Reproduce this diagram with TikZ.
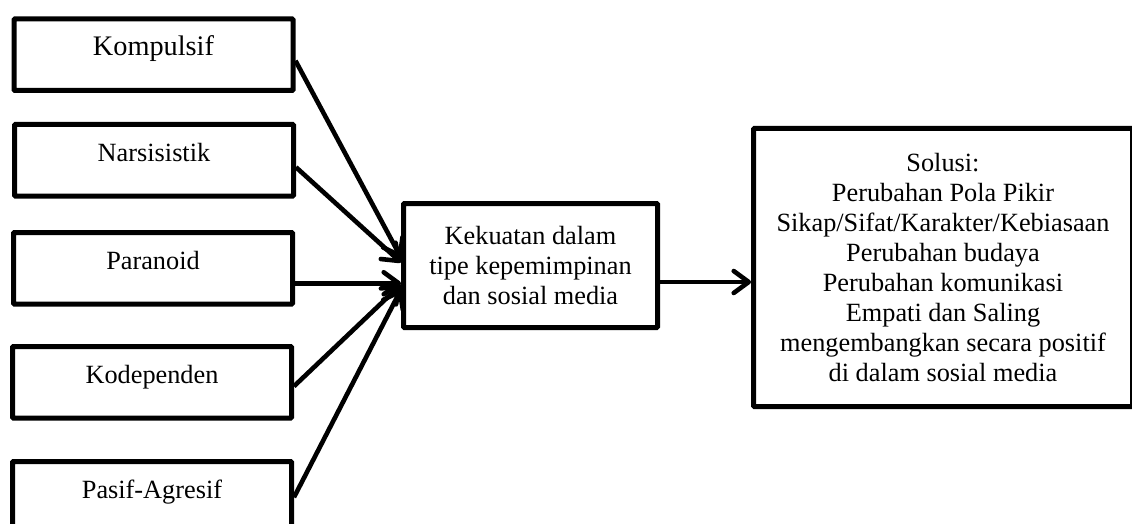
\documentclass[tikz,border=0pt]{standalone}
\usepackage{fontspec}
\setmainfont{Liberation Serif}
\usetikzlibrary{arrows.meta}
\tikzset{
  every node/.style={font=\fontsize{26.3}{30}\selectfont},
  leftbox/.style={draw, line width=5pt, rounded corners=1pt, inner sep=0pt, anchor=north west,
    minimum width=279pt, text height=36.5pt, text depth=35pt},
  bigbox/.style={draw, line width=5pt, rounded corners=1pt, inner sep=0pt, align=center},
  conn/.style={line width=4.6pt, -{Straight Barb[length=15pt,width=22pt,round]}}
}
\begin{document}
\begin{tikzpicture}[x=1pt,y=-1pt]
\useasboundingbox (0,0) rectangle (1132,524);
\clip (0,0) rectangle (1132,524);
\node[leftbox, font=\fontsize{28.3}{30}\selectfont] (k)  at (11.5,16.5) {Kompulsif};
\node[leftbox] (n)  at (12,122)    {Narsisistik};
\node[leftbox] (p)  at (11,230)    {Paranoid};
\node[leftbox] (kd) at (10,344)    {Kodependen};
\node[leftbox] (pa) at (10,459)    {Pasif-Agresif};
\node[bigbox, minimum width=254pt, minimum height=124pt] (m) at (530.5,265.5)
  {Kekuatan dalam\\tipe kepemimpinan\\dan sosial media};
\node[bigbox, minimum width=379pt, minimum height=278pt] (s) at (943,267.5)
  {Solusi:\\Perubahan Pola Pikir\\Sikap/Sifat/Karakter/Kebiasaan\\Perubahan budaya\\Perubahan komunikasi\\Empati dan Saling\\mengembangkan secara positif\\di dalam sosial media};
\draw[conn] ([yshift=-6pt]k.east)  -- ([yshift=8pt]m.west);
\draw[conn] ([yshift=-7pt]n.east)  -- ([yshift=3pt]m.west);
\draw[conn] ([yshift=-15pt]p.east) -- ([yshift=-15pt]p.east -| m.west);
\draw[conn] ([yshift=-4pt]kd.east) -- ([yshift=-19pt]m.west);
\draw[conn] (pa.east) -- ([yshift=-24pt]m.west);
\draw[conn] ([yshift=-16.5pt]m.east) -- ([yshift=-16.5pt]m.east -| s.west);
\end{tikzpicture}
\end{document}
